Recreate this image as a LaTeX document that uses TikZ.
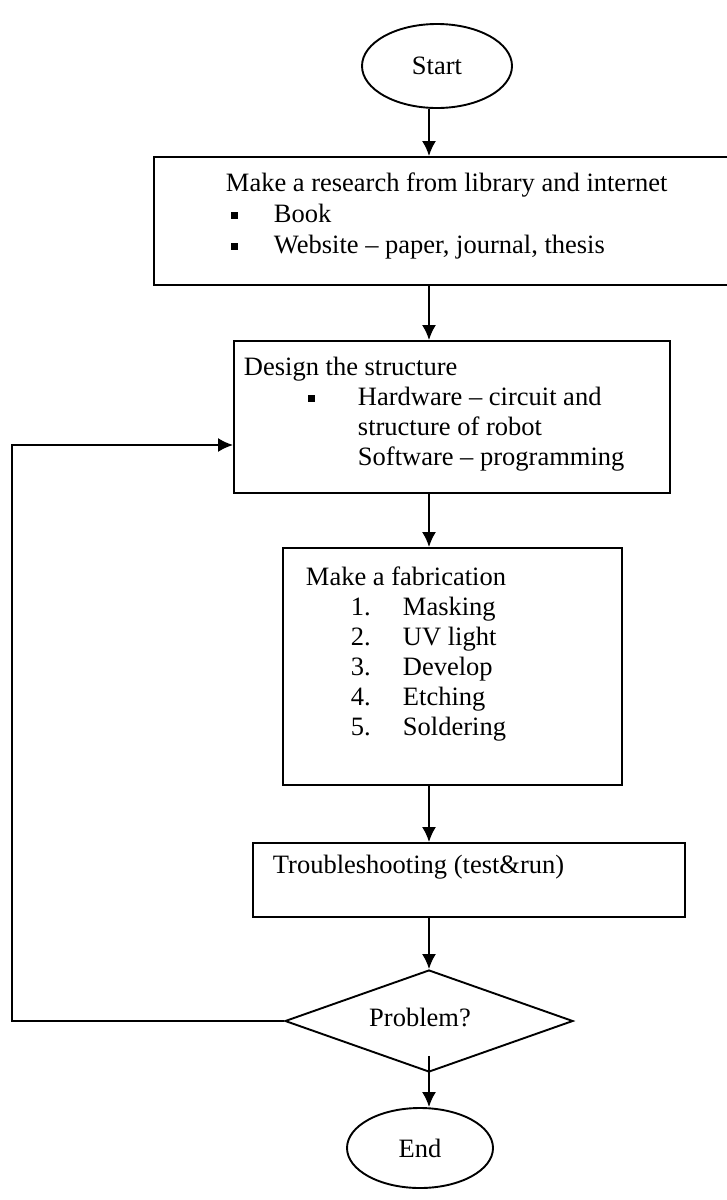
\documentclass[tikz,border=0pt]{standalone}
\usepackage{fontspec}
\setmainfont{Liberation Serif}
\usetikzlibrary{shapes.geometric,arrows.meta,calc}
\newcommand\sqb{\rule[3pt]{7pt}{7pt}}
\begin{document}
\begin{tikzpicture}[x=1pt,y=-1pt,
  line width=1.9pt,
  arr/.style={-{Latex[length=15pt,width=14pt]}},
  box/.style={draw,rectangle,inner sep=0pt},
  oval/.style={draw,ellipse,inner sep=0pt,font=\fontsize{26.5}{30}\selectfont},
  txt/.style={inner sep=0pt,anchor=base west,font=\fontsize{26.5}{30}\selectfont},
]
\useasboundingbox (0,0) rectangle (726,1200);
\coordinate (axis) at (429,0);

% Start
\node[oval, minimum width=150pt, minimum height=84pt] (start) at (437,66) {Start};

% Box 1 (right edge runs off the picture)
\node[box, minimum width=606pt, minimum height=128pt] (b1) at (457,221) {};
\node[txt] (t1a) at (225,191) {Make a research from library and internet};
\node[txt] (t1b) at (230,222) {\makebox[43pt][l]{\sqb}Book};
\node[txt] (t1c) at (230,253) {\makebox[43pt][l]{\sqb}Website \textendash\ paper, journal, thesis};

% Box 2
\node[box, minimum width=436pt, minimum height=152pt] (b2) at (452,417) {};
\node[txt] (t2a) at (243,375) {Design the structure};
\node[txt] (t2b) at (307,405) {\makebox[50pt][l]{\sqb}Hardware \textendash\ circuit and};
\node[txt] (t2c) at (357,435) {structure of robot};
\node[txt] (t2d) at (357,465) {Software \textendash\ programming};

% Fabrication box
\node[box, minimum width=339pt, minimum height=237pt] (b3) at (452.5,666.5) {};
\node[txt] (t3a) at (305,585) {Make a fabrication};
\node[txt] (t3b) at (350,615) {\makebox[52pt][l]{1.}Masking};
\node[txt] (t3c) at (350,645) {\makebox[52pt][l]{2.}UV light};
\node[txt] (t3d) at (350,675) {\makebox[52pt][l]{3.}Develop};
\node[txt] (t3e) at (350,705) {\makebox[52pt][l]{4.}Etching};
\node[txt] (t3f) at (350,735) {\makebox[52pt][l]{5.}Soldering};

% Troubleshooting box
\node[box, minimum width=432pt, minimum height=74pt] (b4) at (469,880) {};
\node[txt] (t4) at (272,873) {Troubleshooting (test\&run)};

% Decision
\node[draw, diamond, aspect=2.82, minimum width=288pt, minimum height=102pt, inner sep=0pt] (dia) at (429,1021) {};
\node[inner sep=0pt, font=\fontsize{26.5}{30}\selectfont] (diat) at (420,1017) {Problem?};

% End
\node[oval, minimum width=146pt, minimum height=80pt] (end) at (420,1148) {End};

% Connectors
\draw[arr] (start.south -| axis) -- (b1.north -| axis);
\draw[arr] (b1.south -| axis) -- (b2.north -| axis);
\draw[arr] (b2.south -| axis) -- (b3.north -| axis);
\draw[arr] (b3.south -| axis) -- (b4.north -| axis);
\draw[arr] (b4.south -| axis) -- (dia.north);
\draw[arr] ($(dia.south)+(0,-17)$) -- (end.north -| axis);

\coordinate (fbL) at (12,1021);
\coordinate (fbT) at (12,445);
\draw[arr] (dia.west) -- (fbL) -- (fbT) -- (fbT -| b2.west);
\end{tikzpicture}
\end{document}
